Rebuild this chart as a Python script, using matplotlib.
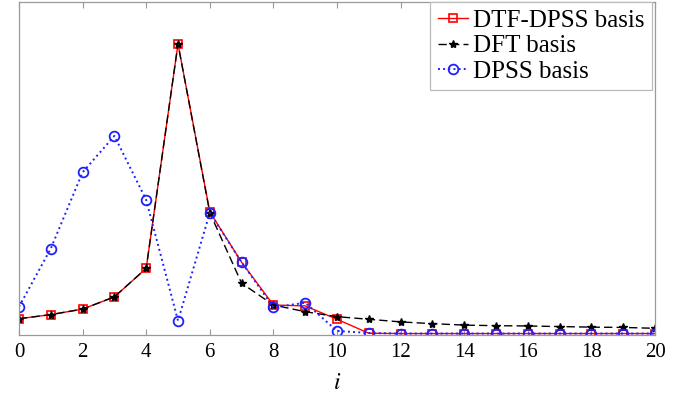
import matplotlib
matplotlib.use("Agg")
import matplotlib.pyplot as plt

i_vals = list(range(21))
dtf_dpss = [0.056, 0.070, 0.089, 0.131, 0.229, 1.000, 0.423, 0.250, 0.103, 0.100,
            0.054, 0.006, 0.005, 0.005, 0.005, 0.005, 0.005, 0.005, 0.005, 0.005, 0.005]
dft = [0.056, 0.070, 0.089, 0.131, 0.229, 1.000, 0.420, 0.178, 0.103, 0.080,
       0.063, 0.054, 0.045, 0.039, 0.034, 0.032, 0.031, 0.029, 0.027, 0.026, 0.023]
dpss = [0.097, 0.297, 0.559, 0.684, 0.464, 0.049, 0.420, 0.250, 0.095, 0.111,
        0.014, 0.007, 0.005, 0.005, 0.005, 0.005, 0.005, 0.005, 0.005, 0.005, 0.005]
xticks = list(range(0, 21, 2))

plt.rcParams['font.family'] = ['Liberation Serif', 'DejaVu Serif']
plt.rcParams['mathtext.fontset'] = 'stix'

fig = plt.figure(figsize=(6.89, 3.96), dpi=100)
ax = fig.add_axes([19/689, 61/396, 636/689, 333/396])

ax.plot(i_vals, dtf_dpss, color='#ff0000', linestyle='-', linewidth=1.0,
        marker='s', markersize=5.5, markerfacecolor='none', markeredgewidth=1.2,
        label='DTF-DPSS basis')
ax.plot(i_vals, dft, color='black', linestyle=(0, (6, 3)), linewidth=1.0,
        marker='*', markersize=6, label='DFT basis')
ax.plot(i_vals, dpss, color='#2020ff', linestyle=':', linewidth=1.4,
        marker='o', markersize=7, markerfacecolor='none', markeredgewidth=1.3,
        label='DPSS basis')

ax.set_xlim(0, 20)
ax.set_ylim(0, 1.144)
ax.set_xticks(xticks)
ax.set_xticklabels([str(t) for t in xticks], fontsize=15)
ax.set_yticks([])
ax.tick_params(axis='x', direction='in', top=True, length=4, color='#999999', pad=6)
for s in ax.spines.values():
    s.set_color('#999999')
    s.set_linewidth(0.9)
ax.set_xlabel('$i$', fontsize=17, labelpad=8)

leg = ax.legend(loc='upper right', fontsize=18, handlelength=1.2, handletextpad=0.2,
                labelspacing=0.12, borderpad=0.3, borderaxespad=0.0, fancybox=False,
                framealpha=1.0, edgecolor='#bbbbbb', bbox_to_anchor=(0.995, 1.0))
leg.get_frame().set_linewidth(0.9)

fig.savefig('out.png', dpi=100)
